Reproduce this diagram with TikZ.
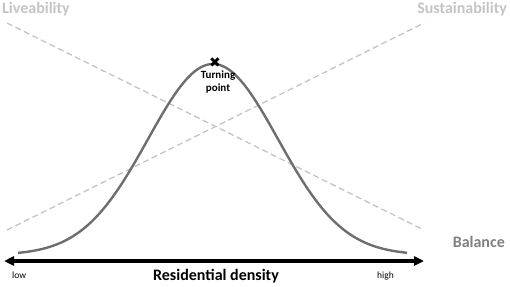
\documentclass[tikz,border=0pt]{standalone}
\usepackage{fontspec}
\setmainfont{Carlito}
\newfontfamily\symfont{DejaVu Sans}
\usetikzlibrary{arrows.meta}
\definecolor{lightgr}{HTML}{C4C4C4}
\definecolor{midgr}{HTML}{808080}
\definecolor{curvegr}{HTML}{6E6E6E}
\tikzset{
  trend/.style={lightgr, line width=1.3pt, dash pattern=on 6pt off 3.5pt},
  bell/.style={curvegr, line width=2.4pt},
  axisline/.style={black, line width=3.4pt, {Triangle[length=10pt,width=9pt]}-{Triangle[length=10pt,width=9pt]}},
  toplabel/.style={lightgr, font=\bfseries\fontsize{16}{18}\selectfont, inner sep=0pt},
  small/.style={black, font=\fontsize{9.5}{11}\selectfont, inner sep=0pt},
}
\begin{document}
\begin{tikzpicture}[x=1pt,y=-1pt]
\useasboundingbox (0,0) rectangle (510,286);
% trend lines
\coordinate (liveA) at (7,23);
\coordinate (liveB) at (424,230);
\coordinate (sustA) at (7,230);
\coordinate (sustB) at (424,23);
\draw[trend] (liveA) -- (liveB);
\draw[trend] (sustA) -- (sustB);
% bell curve
\draw[bell] plot[domain=18:407, samples=120, smooth] (\x,{255-191*exp(-0.5*((\x-213)/65)^2)});
% turning point
\node[inner sep=0pt, font=\symfont\fontsize{14}{14}\selectfont] (tp) at (215,62.5) {✖};
\node[inner sep=0pt, anchor=north, align=center, font=\bfseries\fontsize{11}{13}\selectfont] (tptext) at (218,70.5) {Turning\\point};
% axis
\coordinate (axL) at (4,261);
\coordinate (axR) at (424,261);
\draw[axisline] (axL) -- (axR);
% labels
\node[toplabel, anchor=base west] (live) at (2,14) {Liveability};
\node[toplabel, anchor=base east] (sust) at (507,14) {Sustainability};
\node[midgr, font=\bfseries\fontsize{16}{18}\selectfont, inner sep=0pt, anchor=base east] (bal) at (505,247) {Balance};
\node[small, anchor=base west] (low) at (12,278) {low};
\node[small, anchor=base west] (high) at (377,278) {high};
\node[font=\bfseries\fontsize{16}{18}\selectfont, inner sep=0pt, anchor=base] (dens) at (216,280) {Residential density};
\end{tikzpicture}
\end{document}
